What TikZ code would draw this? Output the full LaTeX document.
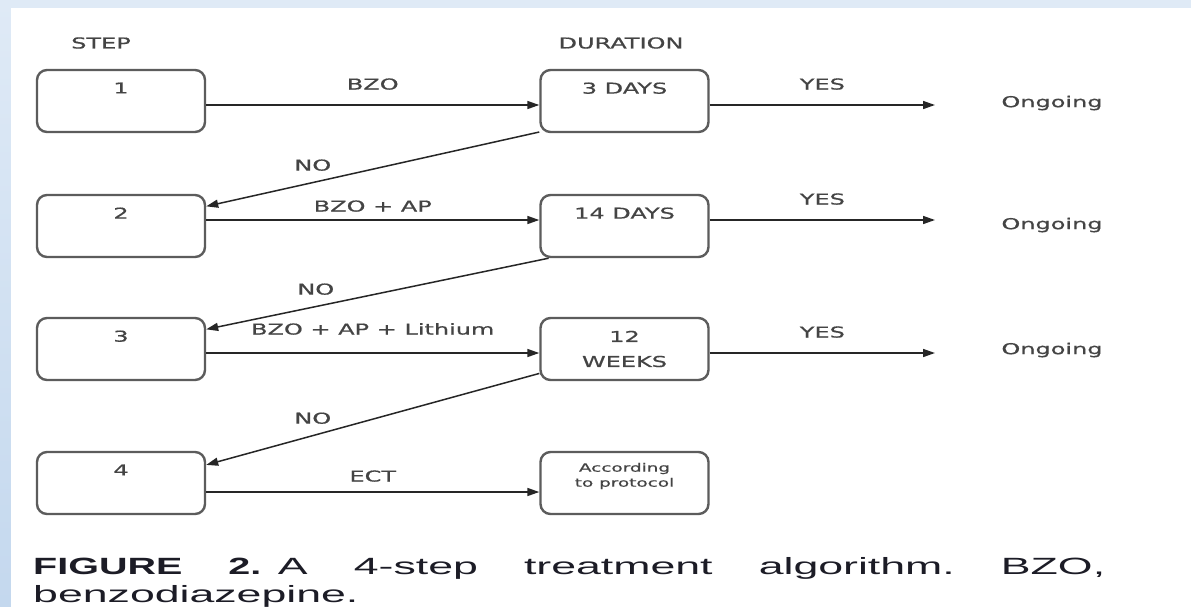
\documentclass[tikz,border=0pt]{standalone}
\usepackage{fontspec}
\setmainfont{DejaVu Sans}[FakeStretch=1.6, FakeBold=0.7]
\newfontfamily\capfont{Liberation Sans}[FakeStretch=1.9, BoldFeatures={FakeStretch=1.68}]
\usepackage{tikz}
\usetikzlibrary{arrows.meta, positioning}
\definecolor{bgtop}{HTML}{DFEAF6}
\definecolor{bgbot}{HTML}{C4D8EE}
\definecolor{boxgray}{HTML}{5C5C5C}
\definecolor{txtgray}{HTML}{444444}
\definecolor{capink}{HTML}{1C1C26}

\begin{document}
\begin{tikzpicture}[x=1pt, y=-1pt,
    stepbox/.style={draw=boxgray, line width=2.4pt, rounded corners=10pt,
        minimum width=168pt, minimum height=62pt, inner sep=0pt},
    lbl/.style={text=txtgray, inner sep=2pt, font=\fontsize{15}{25}\selectfont, align=center},
    flow/.style={draw=black!85, line width=1.5pt, -{Triangle[length=12pt,width=8pt]}},
    captext/.style={text=capink, inner sep=0pt, font=\capfont\fontsize{23.5}{28}\selectfont}
]
    \useasboundingbox (0,0) rectangle (1191,606);
    % background
    \fill[top color=bgtop, bottom color=bgbot] (0,0) rectangle (1191,606);
    \fill[white] (11,8) rectangle (1195,612);

    % headings
    \node[lbl] (hstep) at (101,43) {STEP};
    \node[lbl] (hdur) at (621,43) {DURATION};

    % boxes
    \foreach \i/\y in {1/101, 2/226, 3/349, 4/483} {
        \node[stepbox] (s\i) at (121,\y) {};
        \node[stepbox] (d\i) at (624.5,\y) {};
        \node[lbl, below=11.5pt of s\i.north] (n\i) {\i};
    }
    \node[lbl, below=11.5pt of d1.north] (t1) {3 DAYS};
    \node[lbl, below=11.5pt of d2.north] (t2) {14 DAYS};
    \node[lbl] (t3) at (d3.center) {12\\WEEKS};
    \node[lbl, yshift=7pt, font=\fontsize{11.5}{15}\selectfont] (t4) at (d4.center) {According\\to protocol};

    % treatment arrows
    \foreach \i/\dy/\ly/\txt in {1/-4/12.5/BZO, 2/6/5.5/BZO + AP, 3/-4/15.5/BZO + AP + Lithium, 4/-9/7.5/ECT}
        \draw[flow] ([yshift=\dy pt]s\i.east) -- ([yshift=\dy pt]d\i.west)
            node[lbl, midway, above=\ly pt] {\txt};

    % YES arrows
    \foreach \i/\dy/\oy in {1/-4/103, 2/6/225, 3/-4/350} {
        \coordinate (e\i) at (935,\oy);
        \draw[flow] ([yshift=\dy pt]d\i.east) -- ([yshift=\dy pt]d\i.east -| e\i)
            node[lbl, midway, above=12.5pt] {YES};
        \node[lbl] (og\i) at (1052,\oy) {Ongoing};
    }

    % NO arrows
    \draw[flow] (d1.200) -- (s2.13) node[lbl, pos=0.68, above=9pt] {NO};
    \draw[flow] (d2.203) -- (s3.13) node[lbl, pos=0.68, above=9pt] {NO};
    \draw[flow] (d3.196) -- (s4.12) node[lbl, pos=0.68, above=9pt] {NO};

    % caption
    \node[captext, anchor=base west] (cap1) at (33,574)
        {\makebox[1072pt][l]{\textbf{FIGURE}\hfill\textbf{2.} A\hfill 4-step\hfill treatment\hfill algorithm.\hfill BZO,}};
    \node[captext, anchor=base west] (cap2) at (33,602) {benzodiazepine.};
\end{tikzpicture}
\end{document}
